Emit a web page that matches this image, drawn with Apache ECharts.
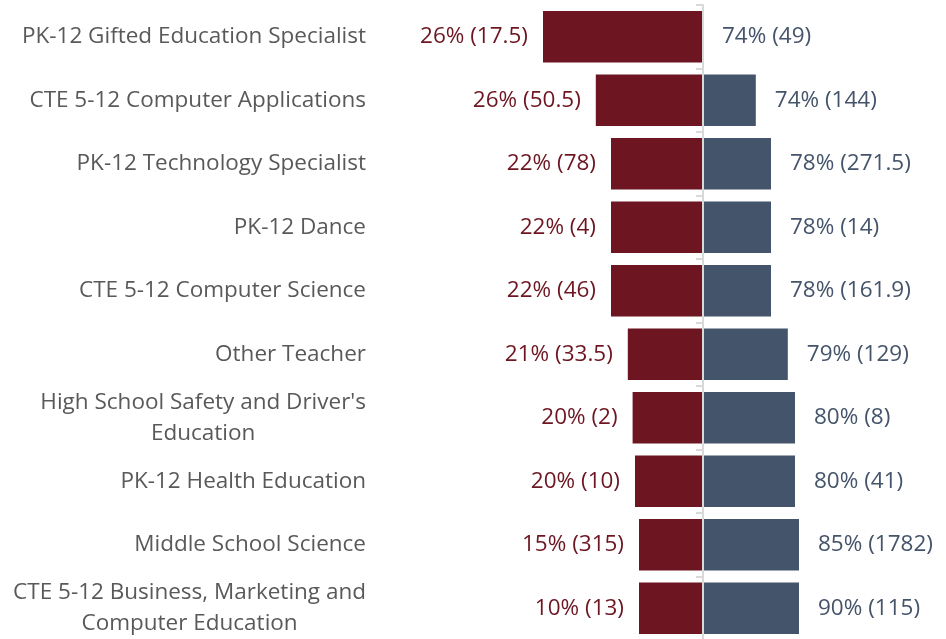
<!DOCTYPE html>
<html>
<head>
<meta charset="utf-8">
<style>
  html, body { margin: 0; padding: 0; background: #fff; }
  #main { width: 946px; height: 639px; }
</style>
<script src="https://cdn.jsdelivr.net/npm/echarts@6/dist/echarts.min.js"></script>
</head>
<body>
<div id="main"></div>
<script>
// categories, top to bottom
var categories = [
  'PK-12 Gifted Education Specialist',
  'CTE 5-12 Computer Applications',
  'PK-12 Technology Specialist',
  'PK-12 Dance',
  'CTE 5-12 Computer Science',
  'Other Teacher',
  "High School Safety and Driver's\nEducation",
  'PK-12 Health Education',
  'Middle School Science',
  'CTE 5-12 Business, Marketing and\nComputer Education'
];
// bar lengths as drawn (left part + right part = 100)
var leftBar = [100, 67, 57.5, 57.5, 57.5, 47, 44, 42.5, 40, 40];
var rightBar = [0, 33, 42.5, 42.5, 42.5, 53, 57.5, 57.5, 60, 60];
// label texts
var leftLabels = ['26% (17.5)', '26% (50.5)', '22% (78)', '22% (4)', '22% (46)',
  '21% (33.5)', '20% (2)', '20% (10)', '15% (315)', '10% (13)'];
var rightLabels = ['74% (49)', '74% (144)', '78% (271.5)', '78% (14)', '78% (161.9)',
  '79% (129)', '80% (8)', '80% (41)', '85% (1782)', '90% (115)'];

var RED = '#6d1621';
var SLATE = '#44546a';
var FONT = '"Open Sans", "Noto Sans", sans-serif';
var FS = 22.5;

var myChart = echarts.init(document.getElementById('main'));

myChart.setOption({
  animation: false,
  grid: { left: 463, width: 480, top: 5, height: 635, outerBoundsMode: 'none', containLabel: false },
  xAxis: {
    type: 'value',
    min: -150,
    max: 150,
    show: false
  },
  yAxis: {
    type: 'category',
    inverse: true,
    data: categories,
    z: 5,
    axisLine: { onZero: true, lineStyle: { color: '#d9d9d9', width: 2 } },
    axisTick: { show: true, length: 7, lineStyle: { color: '#d9d9d9', width: 2 } },
    axisLabel: {
      margin: 97,
      formatter: function (v) {
        return v.split('\n').map(function (s) { return '{c|' + s + '}'; }).join('\n');
      },
      rich: {
        c: { align: 'center', fontSize: FS, lineHeight: 31, color: '#595959', fontFamily: FONT }
      }
    }
  },
  series: [
    {
      name: 'left',
      type: 'bar',
      data: leftBar.map(function (v) { return -v; }),
      barCategoryGap: '19%',
      barGap: '-100%',
      itemStyle: { color: RED },
      label: {
        show: true,
        position: 'left',
        distance: 15,
        color: RED,
        fontSize: FS,
        fontFamily: FONT,
        formatter: function (p) { return leftLabels[p.dataIndex]; }
      }
    },
    {
      name: 'right',
      type: 'bar',
      data: rightBar,
      barCategoryGap: '19%',
      barGap: '-100%',
      itemStyle: { color: SLATE },
      label: {
        show: true,
        position: 'right',
        distance: 19,
        color: SLATE,
        fontSize: FS,
        fontFamily: FONT,
        formatter: function (p) { return rightLabels[p.dataIndex]; }
      }
    }
  ]
});
</script>
</body>
</html>
